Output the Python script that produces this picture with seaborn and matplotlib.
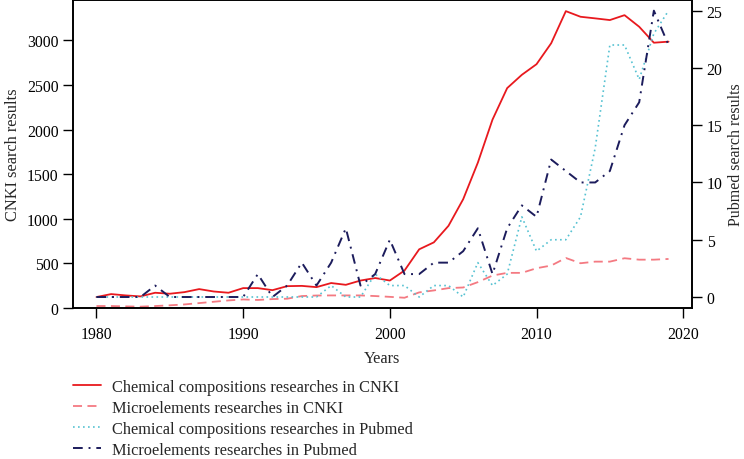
import numpy as np
import pandas as pd
import matplotlib
matplotlib.use("Agg")
import matplotlib.pyplot as plt
import seaborn as sns

years = list(range(1980, 2020))

# CNKI counts (left axis)
cnki_chem = [123, 156, 141, 130, 171, 160, 178, 212, 185, 171,
             223, 223, 200, 245, 248, 234, 280, 260, 308, 336,
             308, 420, 658, 736, 922, 1220, 1630, 2113, 2466, 2615,
             2734, 2969, 3329, 3266, 3248, 3229, 3284, 3154, 2975, 2987]
cnki_micro = [22, 22, 18, 15, 22, 30, 40, 55, 70, 85,
              96, 90, 100, 104, 134, 140, 141, 141, 141, 134,
              125, 115, 175, 197, 223, 230, 290, 364, 394, 394,
              446, 476, 561, 502, 520, 520, 558, 542, 542, 550]

# Pubmed counts (right axis)
pubmed_chem = [0, 0, 0, 0, 0, 0, 0, 0, 0, 0,
               0, 0, 0, 0, 0, 0, 1, 0, 0, 2,
               1, 1, 0, 1, 1, 0, 3, 1, 2, 7,
               4, 5, 5, 7, 13, 22, 22, 19, 23, 25]
pubmed_micro = [0, 0, 0, 0, 1, 0, 0, 0, 0, 0,
                0, 2, 0, 1, 3, 1, 3, 6, 1, 2,
                5, 2, 2, 3, 3, 4, 6, 2, 6, 8,
                7, 12, 11, 10, 10, 11, 15, 17, 25, 22]

labels = ["Chemical compositions researches in CNKI",
          "Microelements researches in CNKI",
          "Chemical compositions researches in Pubmed",
          "Microelements researches in Pubmed"]

sns.set_style("ticks")
plt.rcParams['font.family'] = ['Liberation Serif', 'DejaVu Serif']

fig = plt.figure(figsize=(7.44, 4.6), dpi=100)
ax = fig.add_axes([73 / 744, 1 - 309 / 460, (692 - 73) / 744, 308 / 460])
ax2 = ax.twinx()

sns.lineplot(x=years, y=cnki_chem, ax=ax, color="#e8191e", linewidth=1.3,
             label=labels[0], legend=False)
sns.lineplot(x=years, y=cnki_micro, ax=ax, color="#f47a82", linewidth=1.3,
             linestyle=(0, (5, 3)), label=labels[1], legend=False)
sns.lineplot(x=years, y=pubmed_chem, ax=ax2, color="#56c2d2", linewidth=1.2,
             linestyle=(0, (1, 2)), label=labels[2], legend=False)
sns.lineplot(x=years, y=pubmed_micro, ax=ax2, color="#1c1c5c", linewidth=1.4,
             linestyle=(0, (5, 3, 1, 3)), label=labels[3], legend=False)

ax.set_xlim(1978.4, 2020.6)
ax.set_ylim(0, 3454)
ax2.set_ylim(-0.96, 25.93)
ax.set_xticks([1980, 1990, 2000, 2010, 2020])
ax.set_yticks([0, 500, 1000, 1500, 2000, 2500, 3000])
ax2.set_yticks([0, 5, 10, 15, 20, 25])

for a in (ax, ax2):
    a.tick_params(direction="out", length=7, width=1, labelsize=11.3, colors="black")
    for s in a.spines.values():
        s.set_visible(True)
        s.set_linewidth(1.2)
        s.set_color("black")
ax.tick_params(axis="x", pad=6)

ax.set_xlabel("Years", fontsize=11.8, labelpad=6)
ax.set_ylabel("CNKI search results", fontsize=11.8, labelpad=4)
ax2.set_ylabel("Pubmed search results", fontsize=11.5, labelpad=4)

h1, l1 = ax.get_legend_handles_labels()
h2, l2 = ax2.get_legend_handles_labels()
fig.legend(h1 + h2, l1 + l2, loc="upper left",
           bbox_to_anchor=(73 / 744, 1 - 380 / 460), frameon=False,
           fontsize=11.8, handlelength=1.7, handletextpad=0.7,
           labelspacing=0.3, borderpad=0, borderaxespad=0)

fig.savefig("out.png", dpi=100)
